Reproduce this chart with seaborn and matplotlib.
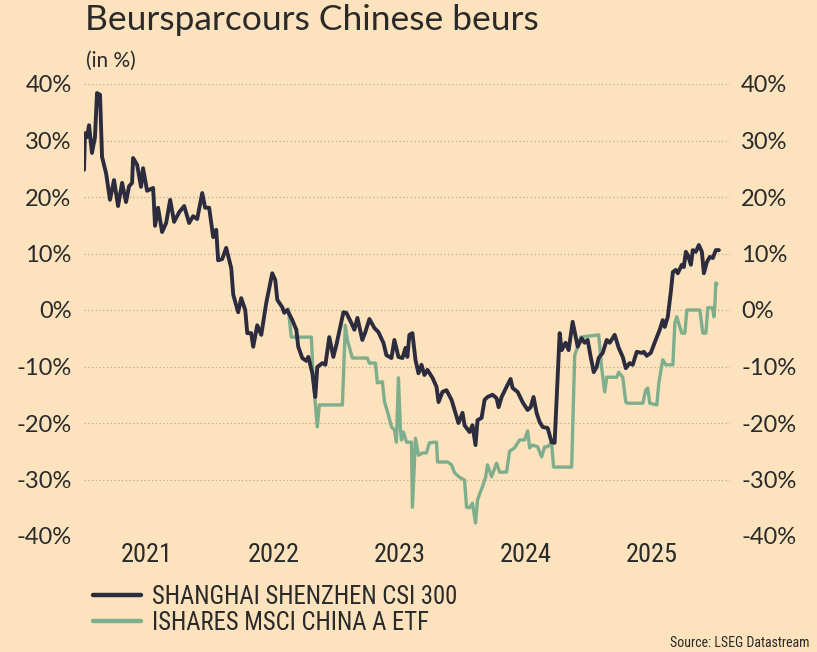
import matplotlib
matplotlib.use("Agg")
import matplotlib.pyplot as plt
import seaborn as sns
import pandas as pd
from matplotlib import font_manager as fm
from matplotlib.lines import Line2D

# ---------------- data (time as decimal year, value in %) ----------------
csi_t = [2021.000, 2021.008, 2021.024, 2021.040, 2021.063, 2021.087, 2021.103, 2021.127, 2021.143, 2021.175,
         2021.206, 2021.238, 2021.270, 2021.302, 2021.333, 2021.357, 2021.381, 2021.389, 2021.421, 2021.452,
         2021.468, 2021.500, 2021.548, 2021.563, 2021.587, 2021.619, 2021.651, 2021.683, 2021.714, 2021.754,
         2021.794, 2021.833, 2021.865, 2021.897, 2021.937, 2021.960, 2021.992, 2022.024, 2022.048, 2022.063,
         2022.095, 2022.127, 2022.167, 2022.183, 2022.222, 2022.246, 2022.278, 2022.294, 2022.325, 2022.341,
         2022.373, 2022.405, 2022.444, 2022.492, 2022.516, 2022.532, 2022.571, 2022.587, 2022.611, 2022.651,
         2022.683, 2022.698, 2022.730, 2022.762, 2022.778, 2022.810, 2022.833, 2022.849, 2022.889, 2022.913,
         2022.944, 2022.976, 2023.000, 2023.056, 2023.079, 2023.119, 2023.143, 2023.167, 2023.206, 2023.230,
         2023.262, 2023.302, 2023.333, 2023.373, 2023.397, 2023.437, 2023.460, 2023.492, 2023.524, 2023.548,
         2023.563, 2023.579, 2023.603, 2023.627, 2023.651, 2023.675, 2023.698, 2023.722, 2023.762, 2023.794,
         2023.810, 2023.841, 2023.873, 2023.913, 2023.937, 2023.968, 2024.000, 2024.016, 2024.056, 2024.079,
         2024.103, 2024.119, 2024.151, 2024.175, 2024.198, 2024.238, 2024.270, 2024.286, 2024.310, 2024.349,
         2024.381, 2024.397, 2024.437, 2024.476, 2024.516, 2024.540, 2024.563, 2024.587, 2024.611, 2024.635,
         2024.675, 2024.706, 2024.730, 2024.770, 2024.786, 2024.817, 2024.841, 2024.873, 2024.897, 2024.913,
         2024.944, 2024.968, 2024.992, 2025.016, 2025.040, 2025.063, 2025.079, 2025.111, 2025.143, 2025.167,
         2025.206, 2025.238, 2025.270, 2025.294, 2025.325, 2025.349, 2025.381, 2025.421, 2025.437, 2025.460,
         2025.492, 2025.524, 2025.563, 2025.587, 2025.603, 2025.627, 2025.651, 2025.667, 2025.690, 2025.706,
         2025.738, 2025.754, 2025.770, 2025.786, 2025.810, 2025.825, 2025.849, 2025.873, 2025.897, 2025.913,
         2025.937, 2025.960, 2025.984, 2026.008, 2026.032]
csi_v = [24.8, 31.3, 30.6, 32.7, 27.8, 30.6, 38.4, 38.1, 27.1, 24.2,
         19.5, 23.0, 18.4, 22.5, 19.1, 21.9, 22.5, 26.9, 25.7, 21.8,
         25.1, 21.1, 21.6, 14.9, 18.1, 13.8, 15.4, 19.5, 15.6, 17.3,
         18.4, 15.4, 16.6, 16.1, 20.7, 18.1, 18.1, 12.9, 14.2, 8.8,
         9.0, 11.0, 7.4, 2.7, -0.4, 2.1, 0.0, -4.1, -4.1, -6.5,
         -2.7, -4.4, 1.2, 6.5, 5.3, 1.8, 0.5, -0.5, 0.0, -1.8,
         -3.5, -6.5, -8.5, -9.0, -8.3, -11.2, -15.4, -10.1, -9.4, -9.7,
         -4.8, -8.3, -6.2, -0.4, -0.5, -2.3, -3.5, -1.4, -5.3, -3.9,
         -1.6, -3.2, -3.9, -5.8, -8.0, -8.5, -5.3, -8.3, -8.5, -6.7,
         -8.3, -4.4, -4.1, -8.8, -11.2, -9.7, -11.5, -10.6, -12.0, -13.6,
         -16.3, -14.5, -14.2, -15.9, -17.7, -20.0, -18.2, -20.4, -21.6, -20.4,
         -23.9, -19.5, -19.1, -15.9, -15.4, -15.0, -15.6, -17.2, -15.4, -13.6,
         -12.2, -13.8, -14.5, -16.3, -17.7, -17.2, -15.4, -18.2, -19.8, -20.7,
         -20.9, -23.4, -23.5, -4.1, -7.1, -5.8, -7.1, -2.1, -4.8, -6.5,
         -5.0, -5.8, -5.3, -8.3, -11.0, -10.1, -8.5, -7.6, -5.3, -5.8,
         -4.4, -6.7, -8.3, -10.3, -9.4, -9.7, -7.4, -7.6, -7.4, -8.1,
         -7.6, -5.7, -3.5, -1.8, -3.0, -1.2, 3.2, 6.7, 7.1, 6.5,
         8.0, 7.6, 10.3, 9.7, 8.0, 10.6, 10.3, 11.5, 10.3, 6.5,
         8.5, 9.4, 9.2, 10.6, 10.6]

etf_t = [2022.619, 2022.643, 2022.802, 2022.817, 2022.833, 2022.849, 2022.865, 2023.048, 2023.071, 2023.087,
         2023.127, 2023.246, 2023.262, 2023.310, 2023.325, 2023.365, 2023.381, 2023.413, 2023.437, 2023.460,
         2023.476, 2023.492, 2023.508, 2023.516, 2023.532, 2023.556, 2023.595, 2023.603, 2023.627, 2023.651,
         2023.683, 2023.714, 2023.738, 2023.778, 2023.794, 2023.802, 2023.881, 2023.913, 2023.937, 2023.976,
         2024.016, 2024.032, 2024.056, 2024.079, 2024.103, 2024.119, 2024.159, 2024.183, 2024.198, 2024.230,
         2024.270, 2024.294, 2024.349, 2024.373, 2024.413, 2024.452, 2024.492, 2024.516, 2024.532, 2024.556,
         2024.595, 2024.627, 2024.651, 2024.675, 2024.706, 2024.722, 2024.865, 2024.889, 2024.913, 2024.937,
         2025.079, 2025.103, 2025.127, 2025.143, 2025.222, 2025.238, 2025.270, 2025.294, 2025.310, 2025.429,
         2025.452, 2025.468, 2025.484, 2025.540, 2025.556, 2025.587, 2025.611, 2025.667, 2025.683, 2025.698,
         2025.722, 2025.738, 2025.762, 2025.778, 2025.881, 2025.905, 2025.929, 2025.944, 2025.984, 2025.992,
         2026.000, 2026.008, 2026.016]
etf_v = [0.2, -4.8, -4.8, -12.4, -16.5, -20.7, -16.8, -16.8, -2.7, -5.3,
         -8.5, -8.5, -9.4, -9.4, -12.9, -12.7, -16.2, -18.6, -20.7, -21.2,
         -23.4, -12.0, -21.2, -23.0, -21.6, -23.4, -23.4, -34.9, -22.7, -25.7,
         -25.3, -25.3, -23.5, -23.4, -23.4, -26.9, -26.9, -27.4, -28.8, -29.6,
         -30.1, -34.9, -35.0, -34.2, -37.7, -33.6, -31.2, -29.6, -27.4, -29.5,
         -27.1, -28.7, -28.7, -25.0, -24.4, -23.0, -23.0, -21.4, -24.4, -23.9,
         -24.2, -26.0, -24.2, -24.2, -23.5, -27.8, -27.8, -8.0, -6.5, -4.8,
         -4.4, -10.3, -14.5, -11.9, -11.9, -11.0, -11.9, -16.3, -16.5, -16.5,
         -14.2, -13.8, -16.5, -16.8, -12.9, -8.8, -9.7, -9.7, -2.3, -1.2,
         -3.0, -4.1, -4.1, 0.0, 0.0, -4.1, -4.1, 0.4, 0.4, -1.2,
         0.9, 4.8, 4.6]

series_names = ["SHANGHAI SHENZHEN CSI 300", "ISHARES MSCI CHINA A ETF"]
year_labels = ["2021", "2022", "2023", "2024", "2025"]
y_ticks = [-40, -30, -20, -10, 0, 10, 20, 30, 40]

title = "Beursparcours Chinese beurs"
subtitle = "(in %)"
source = "Source: LSEG Datastream"

# ---------------- style ----------------
BG = "#FCE3BE"
DARK = "#2C2C3E"
GREEN = "#7EAE8B"
TXT = "#2A2A2A"

installed = {f.name for f in fm.fontManager.ttflist}
def pick(*names):
    for n in names:
        if n in installed:
            return n
    return "DejaVu Sans"

MAIN = pick("Lato", "Open Sans", "DejaVu Sans")
NARROW = pick("Liberation Sans Narrow", "Roboto Condensed", "Roboto", "DejaVu Sans")

sns.set_theme(style="white")
plt.rcParams["font.family"] = [MAIN, "DejaVu Sans"]

df = pd.concat([
    pd.DataFrame({"t": csi_t, "v": csi_v, "serie": series_names[0]}),
    pd.DataFrame({"t": etf_t, "v": etf_v, "serie": series_names[1]}),
], ignore_index=True)

fig = plt.figure(figsize=(8.17, 6.52), dpi=100, facecolor=BG)
ax = fig.add_axes([84 / 817, 1 - 536 / 652, (730 - 84) / 817, (536 - 84) / 652])
ax.set_facecolor(BG)

sns.lineplot(data=df, x="t", y="v", hue="serie", hue_order=series_names,
             palette=[DARK, GREEN], linewidth=2.8, ax=ax, legend=False,
             estimator=None, sort=False)
for ln in ax.lines:
    ln.set_solid_joinstyle("round")
ax.lines[0].set_zorder(4)
ax.lines[1].set_zorder(3)
ax.lines[1].set_linewidth(2.4)

ax.set_xlim(2021.0, 2026.12)
ax.set_ylim(-40, 40)
ax.set_yticks(y_ticks)
ax.set_yticklabels([f"{v}%" for v in y_ticks])
ax.set_xticks([int(y) + 0.5 for y in year_labels])
ax.set_xticklabels(year_labels, fontfamily=NARROW, fontsize=19, color=TXT)
ax.tick_params(axis="x", length=0, pad=5)
ax.tick_params(axis="y", length=0, pad=9, labelsize=17, labelcolor=TXT)
ax.grid(axis="y", linestyle=(0, (1, 2)), color="#BFA98C", linewidth=0.9)
ax.grid(axis="x", visible=False)
for s in ax.spines.values():
    s.set_visible(False)
ax.set_xlabel("")
ax.set_ylabel("")

ax2 = ax.twinx()
ax2.set_ylim(-40, 40)
ax2.set_yticks(y_ticks)
ax2.set_yticklabels([f"{v}%" for v in y_ticks])
ax2.tick_params(axis="y", length=0, pad=8, labelsize=17, labelcolor=TXT)
ax2.grid(False)
for s in ax2.spines.values():
    s.set_visible(False)

fig.text(85 / 817, 1 - 4 / 652, title, fontsize=25.5, color=TXT, va="top", ha="left")
fig.text(86 / 817, 1 - 61 / 652, subtitle, fontsize=15, color=TXT, va="center", ha="left")
fig.text(810 / 817, 1 - 643 / 652, source, fontsize=10, color=TXT, va="center", ha="right",
         fontfamily=NARROW)

# legend
handles = [Line2D([0], [0], color=DARK, lw=3.2), Line2D([0], [0], color=GREEN, lw=3.2)]
leg = fig.legend(handles, series_names, loc="upper left", bbox_to_anchor=(93 / 817, 1 - 585 / 652),
                 frameon=False, handlelength=1.95, handletextpad=0.42, labelspacing=0.08,
                 prop={"family": NARROW, "size": 17.8}, borderaxespad=0, borderpad=0)
for t in leg.get_texts():
    t.set_color(TXT)

fig.savefig("out.png", dpi=100, facecolor=BG)
